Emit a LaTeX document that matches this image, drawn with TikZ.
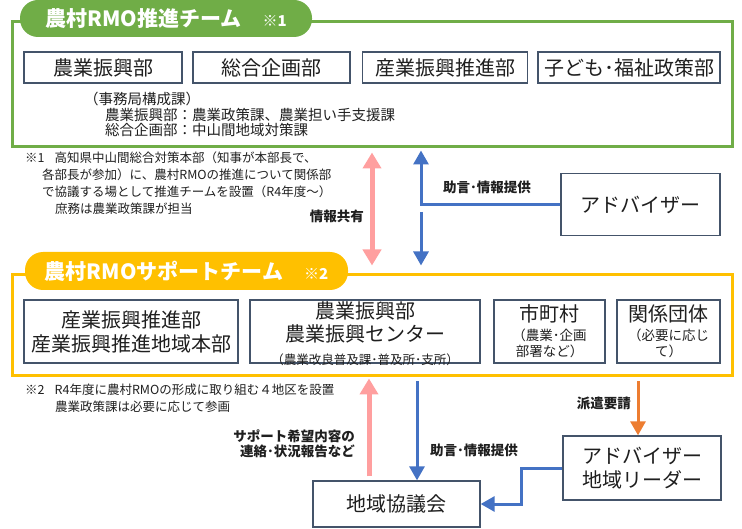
\documentclass[tikz,border=0pt]{standalone}
\usepackage{fontspec}
\setmainfont{Noto Sans CJK JP}
\usetikzlibrary{arrows.meta,positioning}
\definecolor{rmogreen}{HTML}{70AD47}
\definecolor{rmoyellow}{HTML}{FFC000}
\definecolor{boxline}{HTML}{44546A}
\definecolor{pinkarr}{HTML}{FF9F9F}
\definecolor{bluearr}{HTML}{4472C4}
\definecolor{orangearr}{HTML}{ED7D31}
\newcommand{\smtxt}{\fontsize{13.5}{16}\selectfont}
\tikzset{every node/.style={inner sep=1pt, text=black!88},
  frame/.style={draw, line width=3pt, minimum width=720pt},
  pill/.style={rounded corners=18pt, text=white, font=\fontsize{21}{24}\selectfont\bfseries},
  box/.style={draw=boxline, line width=1.3pt, fill=white, align=center, font=\fontsize{20}{24}\selectfont},
  note/.style={anchor=north west, align=left, font=\fontsize{12.5}{17}\selectfont},
  lbl/.style={font=\fontsize{13.5}{15}\selectfont\bfseries, align=right},
  tip/.style={-{Triangle[width=15pt,length=14pt]}},
  parr/.style={draw=pinkarr, line width=5pt, -{Triangle[width=18pt,length=16pt]}},
  barr/.style={draw=bluearr, line width=3pt, tip},
  oarr/.style={draw=orangearr, line width=3pt, tip}}

\begin{document}
\begin{tikzpicture}[x=1pt,y=-1pt]
  \useasboundingbox (0,0) rectangle (742,529);
  \node[frame, draw=rmogreen, minimum height=125pt] (gf) at (372,84.5) {};
  \node[frame, draw=rmoyellow, minimum height=101pt] (yf) at (372,325.5) {};
  \node[pill, fill=rmogreen, minimum width=292pt, minimum height=37pt] (gt) at (166,18.5)
    {農村RMO推進チーム\hspace{1em}{\fontsize{15}{18}\selectfont ※1}};
  \node[pill, fill=rmoyellow, minimum width=323pt, minimum height=38pt] (yt) at (186.5,271)
    {農村RMOサポートチーム\hspace{1em}{\fontsize{15}{18}\selectfont ※2}};

  \node[box, minimum width=158pt, minimum height=31pt] (b1) at (103,67.5) {農業振興部};
  \node[box, minimum width=157pt, minimum height=31pt] (b2) at (271.5,67.5) {総合企画部};
  \node[box, minimum width=165pt, minimum height=31pt] (b3) at (445,67.5) {産業振興推進部};
  \node[box, minimum width=182pt, minimum height=31pt] (b4) at (629,67.5) {子ども･福祉政策部};
  \node[note, font=\fontsize{14.5}{15.5}\selectfont] (jm) at (83,91)
    {（事務局構成課）\\\hspace*{21pt}農業振興部：農業政策課、農業担い手支援課\\\hspace*{21pt}総合企画部：中山間地域対策課};

  \node[note] (n1) at (24,151)
    {※1\hspace{10pt}高知県中山間総合対策本部（知事が本部長で、\\
     \hspace*{17pt}各部長が参加）に、農村RMOの推進について関係部\\
     \hspace*{17pt}で協議する場として推進チームを設置（R4年度～）\\
     \hspace*{30pt}庶務は農業政策課が担当};

  \node[box, minimum width=159pt, minimum height=62pt] (adv) at (640.5,204.5) {アドバイザー};
  \node[lbl, anchor=east] (l1) at (365,216) {情報共有};
  \node[lbl, anchor=west] (l2) at (442,187) {助言･情報提供};

  \node[box, minimum width=214pt, minimum height=63pt] (s1) at (131,331.5) {産業振興推進部\\産業振興推進地域本部};
  \node[box, minimum width=230pt, minimum height=63pt] (s2) at (365,331.5) {};
  \node[align=center, font=\fontsize{20}{23}\selectfont] (s2t) at (365,334)
    {農業振興部\\農業振興センター\\\fontsize{12.5}{14}\selectfont （農業改良普及課･普及所･支所）};
  \node[box, minimum width=111pt, minimum height=63pt] (s3) at (549.5,331.5)
    {市町村\\[-5pt]\smtxt （農業･企画\\[-8pt]\smtxt 部署など）};
  \node[box, minimum width=103pt, minimum height=63pt] (s4) at (668.5,331.5)
    {関係団体\\[-5pt]\smtxt （必要に応じ\\[-8pt]\smtxt て）};

  \node[note] (n2) at (24,383)
    {※2\hspace{10pt}R4年度に農村RMOの形成に取り組む４地区を設置\\
     \hspace*{30pt}農業政策課は必要に応じて参画};

  \node[box, minimum width=158pt, minimum height=64pt] (ldr) at (642,468) {アドバイザー\\地域リーダー};
  \node[box, minimum width=167pt, minimum height=46pt] (kyo) at (396.5,504) {地域協議会};
  \node[lbl, anchor=east] (l3) at (356,444) {サポート希望内容の\\連絡･状況報告など};
  \node[lbl, anchor=west] (l4) at (429,450) {助言･情報提供};
  \node[lbl, anchor=east] (l5) at (632,403) {派遣要請};

  \draw[parr, {Triangle[width=18pt,length=16pt]}-{Triangle[width=18pt,length=16pt]}, shorten <=4pt, shorten >=8pt]
    (372,0 |- gf.south) -- (372,0 |- yf.north);
  \draw[barr, shorten >=2pt] (adv.west) -| (421,0 |- gf.south);
  \coordinate (brk) at (421,212);
  \draw[barr, shorten >=8pt] (brk) -- (brk |- yf.north);

  \draw[parr, shorten <=4pt, shorten >=1pt] (369,0 |- kyo.north) -- (369,0 |- yf.south);
  \draw[barr, shorten <=4pt] (417,0 |- yf.south) -- (417,0 |- kyo.north);
  \draw[oarr, shorten <=4pt] (638,0 |- yf.south) -- (638,0 |- ldr.north);
  \draw[barr] (ldr.west) -- ++(-41,0) |- (kyo.east);
\end{tikzpicture}
\end{document}
